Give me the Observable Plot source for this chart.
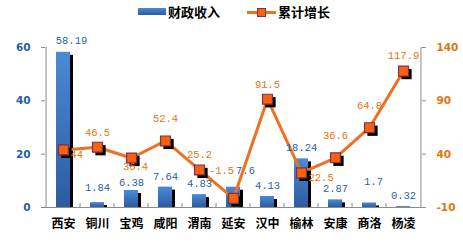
<!DOCTYPE html>
<html><head><meta charset="utf-8">
<script src="https://cdn.jsdelivr.net/npm/d3@7"></script>
<script src="https://cdn.jsdelivr.net/npm/@observablehq/plot@0.6"></script>
<style>
body{margin:0;background:#fff;}
#wrap{position:relative;width:463px;height:242px;overflow:hidden;background:#fff;}
#legend{position:relative;height:30px;width:463px;font-family:"Noto Sans CJK SC",sans-serif;font-weight:bold;font-size:13px;color:#000;}
#legend .t{position:absolute;top:4px;line-height:16px;white-space:nowrap;}
#legend .sw{position:absolute;}
</style></head><body>
<div id="wrap">
  <div id="legend">
    <div class="sw" style="left:138px;top:8px;width:28px;height:7px;background:linear-gradient(#4a8ad6,#2a5a9e);"></div>
    <div class="t" id="lg1" style="left:168px;"></div>
    <div class="sw" style="left:247px;top:10.5px;width:29px;height:3px;background:#f07020;"></div>
    <div class="sw" style="left:257px;top:7.5px;width:7px;height:7px;background:#ff6010;border:1px solid #7a3050;"></div>
    <div class="t" id="lg2" style="left:278px;"></div>
  </div>
  <div id="chart"></div>
</div>
<script>
const categories = ["西安","铜川","宝鸡","咸阳","渭南","延安","汉中","榆林","安康","商洛","杨凌"];
const revenue = [58.19,1.84,6.38,7.64,4.83,7.6,4.13,18.24,2.87,1.7,0.32];
const growth = [44,46.5,36.4,52.4,25.2,-1.5,91.5,22.5,36.6,64.8,117.9];
const seriesNames = ["财政收入","累计增长"];
const leftTicks = [0,20,40,60];
const rightTicks = [-10,40,90,140];

// label placement styles (not data)
const growthLabelPlace = ["right","above","below","high","above","upleft","above","right","high","high","above"];
const revenueLabelPlace = ["nudge","high","low","base","base","upright","base","base","base","higher","base"];

document.getElementById("lg1").textContent = seriesNames[0];
document.getElementById("lg2").textContent = seriesNames[1];

const W = 463, H = 212, ML = 41, MR = 38, MT = 17, MB = 35;
const half = (W - ML - MR) / categories.length / 2;
const leftDomain = [leftTicks[0], leftTicks[leftTicks.length-1]];
const rightDomain = [rightTicks[0], rightTicks[rightTicks.length-1]];
const toLeft = v => (v - rightDomain[0]) * (leftDomain[1]-leftDomain[0]) / (rightDomain[1]-rightDomain[0]) + leftDomain[0];
const toRight = d => Math.round((d - leftDomain[0]) * (rightDomain[1]-rightDomain[0]) / (leftDomain[1]-leftDomain[0]) + rightDomain[0]);
const pxToUnits = px => px * (leftDomain[1]-leftDomain[0]) / (H - MT - MB);

const data = categories.map((c,i)=>({c, rev: revenue[i], g: growth[i], gy: toLeft(growth[i]), gp: growthLabelPlace[i], rp: revenueLabelPlace[i]}));

const gOff = {right:[7,5,"start"], above:[0,-15,"middle"], below:[4,9,"middle"], high:[0,-22,"middle"], upleft:[-12,-28,"middle"]};
const rOff = {base:[0,-11], low:[0,-8], high:[0,-15], higher:[4,-21], nudge:[8,-12], upright:[12,-17]};

const labelFont = {fontFamily:"'Liberation Mono','DejaVu Sans Mono',monospace", fontSize:10.5};
const axisFont = {fontFamily:"'DejaVu Sans',sans-serif", fontSize:10.5, fontWeight:"bold"};

const defs = () => {
  const d = d3.create("svg:defs");
  const g = d.append("linearGradient").attr("id","barGrad").attr("x1",0).attr("y1",0).attr("x2",0).attr("y2",1);
  g.append("stop").attr("offset","0%").attr("stop-color","#4a8ad6");
  g.append("stop").attr("offset","100%").attr("stop-color","#2b5c9f");
  return d.node();
};

const marks = [
  defs,
  Plot.barY(data, {x:"c", y:"rev", fill:"#000", dx:3, insetTop:3}),
  Plot.barY(data, {x:"c", y:"rev", fill:"url(#barGrad)"}),
  Plot.ruleY([leftDomain[0]], {stroke:"#8c8c8c"}),
  Plot.ruleX([categories[0]], {dx:-half, y1:leftDomain[0], y2:leftDomain[1], stroke:"#8c8c8c"}),
  Plot.ruleX([categories[categories.length-1]], {dx:half, y1:leftDomain[0], y2:leftDomain[1], stroke:"#8c8c8c"}),
  Plot.ruleX(categories.slice(1), {dx:-half, y1:leftDomain[0], y2:pxToUnits(4), stroke:"#8c8c8c"}),
  Plot.line(data, {x:"c", y:"gy", stroke:"#f07020", strokeWidth:3}),
  Plot.dot(data, {x:"c", y:"gy", symbol:"square", r:5.8, fill:"#000", dx:3, dy:3}),
  Plot.dot(data, {x:"c", y:"gy", symbol:"square", r:5.6, fill:"#ff6010", stroke:"#7a3050", strokeWidth:1.2}),
  ...Object.entries(rOff).map(([k,[dx,dy]]) => Plot.text(data.filter(d=>d.rp===k), {x:"c", y:"rev", text:d=>String(d.rev), dx, dy, fill:"#1f5fae", ...labelFont})),
  ...Object.entries(gOff).map(([k,[dx,dy,ta]]) => Plot.text(data.filter(d=>d.gp===k), {x:"c", y:"gy", text:d=>String(d.g), dx, dy, textAnchor:ta, fill:"#e4740f", ...labelFont})),
  Plot.axisY(leftTicks, {anchor:"left", tickSize:-4, tickPadding:15, stroke:"#8c8c8c", fill:"#1f5fa8", label:null, ...axisFont}),
  Plot.axisY(rightTicks.map(toLeft), {anchor:"right", tickSize:-4, tickPadding:15, tickFormat:toRight, stroke:"#8c8c8c", fill:"#e4740f", label:null, ...axisFont}),
  Plot.axisX({tickSize:0, tickPadding:12, fill:"#000", label:null, fontFamily:"'Noto Sans CJK SC',sans-serif", fontSize:12, fontWeight:"bold"})
];

const chart = Plot.plot({
  width: W, height: H,
  marginLeft: ML, marginRight: MR, marginTop: MT, marginBottom: MB,
  style: {background:"#fff", overflow:"visible"},
  x: {domain: categories, paddingInner: 0.6, paddingOuter: 0.3},
  y: {domain: leftDomain},
  marks
});
document.getElementById("chart").appendChild(chart);
</script>
</body></html>
